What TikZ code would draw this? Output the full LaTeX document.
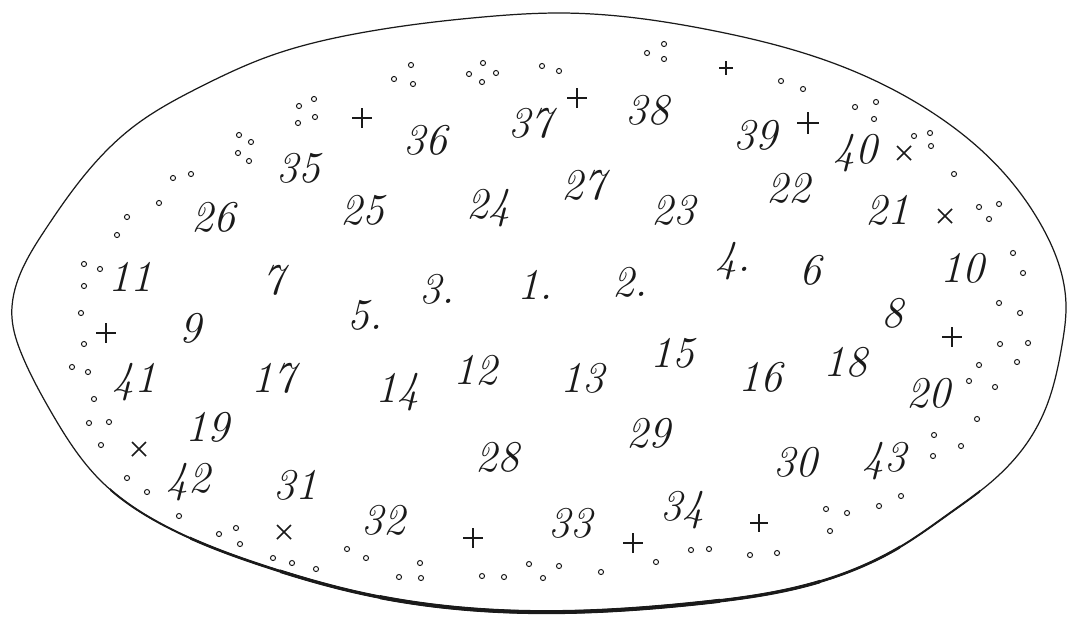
\documentclass[tikz,border=0pt]{standalone}
\usepackage{tikz}
\usetikzlibrary{hobby}
\definecolor{inkline}{HTML}{1A1A1A}
\tikzset{
  numlbl/.style  = {font=\fontsize{25}{27}\selectfont\itshape, text=inkline, inner sep=0pt},
  rim/.style     = {draw=inkline, line width=0.7pt},
  ringdot/.style = {draw=inkline, line width=0.55pt},
  plusln/.style  = {draw=inkline, line width=0.85pt},
}
\newcommand{\rimpath}{plot[closed hobby] coordinates {
    (12,318) (45,230) (83,177) (133,127) (200,87) (267,57) (360,33)
    (483,17) (560,13) (710,30) (833,63) (933,113) (1003,172) (1040,223)
    (1066,305) (1062,345) (1045,410) (1027,443) (990,483)
    (950,513) (900,547) (800,587) (700,603) (530,612)
    (360,593) (267,567) (167,527) (100,480) (50,410) (22,355)}}

\begin{document}
\begin{tikzpicture}[x=0.02cm, y=-0.02cm]
  \useasboundingbox (0,0) rectangle (1067,616);
  \fill[white] (0,0) rectangle (1067,616);
  \draw[rim] \rimpath;
  \foreach \lw/\xa/\xb/\ya in {1.1pt/110/980/440, 1.5pt/190/900/500, 1.9pt/280/820/540, 2.3pt/380/720/570}{
    \begin{scope}
      \clip (\xa,\ya) rectangle (\xb,616);
      \draw[rim, line width=\lw] \rimpath;
    \end{scope}
  }
  \foreach \id/\x/\y/\txt in {
    1/535/285/{1.}, 2/630/282/{2.}, 3/437/289/{3.}, 4/733/261/{4.}, 5/365/315/{5.},
    6/810/270/6, 7/273/280/7, 8/892/313/8, 9/190/328/9, 10/962/268/10,
    11/130/277/11, 12/475/370/12, 13/582/378/13, 14/397/392/14, 15/672/353/15,
    16/760/377/16, 17/273/378/17, 18/845/362/18, 19/207/427/19, 20/928/393/20,
    21/887/210/21, 22/788/188/22, 23/673/210/23, 24/488/208/24, 25/362/210/25,
    26/213/217/26, 27/583/185/27, 28/497/457/28, 29/648/433/29, 30/795/462/30,
    31/295/485/31, 32/383/520/32, 33/570/523/33, 34/682/510/34, 35/298/168/35,
    36/425/140/36, 37/530/123/37, 38/647/110/38, 39/755/135/39, 40/855/153/40,
    41/134/382/41, 42/188/482/42, 43/884/461/43}{
    \node[numlbl] (n\id) at (\x,\y) {\txt};
  }
  \foreach \x/\y/\h in {362/118/10, 577/98/10, 726/68/7, 808/123/11, 106/333/10,
    952/337/10, 473/538/10, 633/543/10, 759/523/9}{
    \draw[plusln] (\x-\h,\y) -- (\x+\h,\y) (\x,\y-\h) -- (\x,\y+\h);
  }
  \foreach \x/\y in {904/153, 945/216, 139/449, 284/532}{
    \draw[plusln] (\x-7,\y-7) -- (\x+7,\y+7) (\x-7,\y+7) -- (\x+7,\y-7);
  }
  \foreach \x/\y in {
    84/264, 100/269, 84/286, 81/313, 84/344, 72/367, 88/372,
    127/217, 117/235, 159/203, 173/178, 191/174,
    239/135, 251/142, 238/153, 249/161, 299/106, 314/99, 298/123, 315/117,
    394/79, 411/65, 413/84, 469/74, 483/63, 496/73, 482/82, 542/66, 559/71,
    647/53, 664/44, 664/59, 781/81, 803/89, 855/107, 876/102, 874/119,
    914/136, 930/133, 931/146, 954/174, 979/207, 999/204, 989/219,
    1013/253, 1023/273, 999/303, 1020/313, 1000/344, 1028/343, 979/365, 1017/362,
    969/381, 995/387, 977/419, 934/435, 961/446, 933/456,
    901/496, 879/506, 847/513, 826/509, 830/531, 750/555, 777/553, 709/549, 691/550,
    656/562, 601/572, 559/566, 543/578, 529/564, 482/576, 504/577,
    420/563, 399/577, 421/578, 366/558, 347/549, 273/558, 292/563, 316/569,
    219/534, 236/528, 240/544, 179/516, 147/492, 127/478,
    101/445, 89/423, 109/422, 94/399}{
    \draw[ringdot] (\x,\y) circle[radius=1.45pt];
  }
\end{tikzpicture}
\end{document}
